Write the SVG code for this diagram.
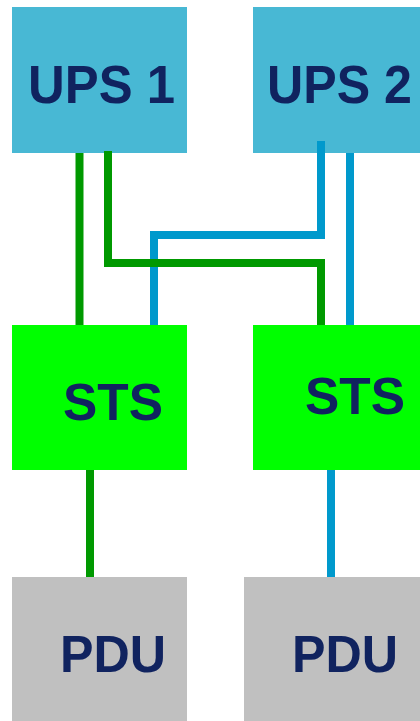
<svg xmlns="http://www.w3.org/2000/svg" width="420" height="721" viewBox="0 0 420 721">
<style>
.ups{fill:#48B8D4}
.sts{fill:#00FF00}
.pdu{fill:#C0C0C0}
.lbl{font-family:"Liberation Sans",Arial,sans-serif;font-weight:bold;fill:#10235F}
.g{stroke:#009900;stroke-width:8;fill:none}
.b{stroke:#0099CC;stroke-width:8;fill:none}
</style>
<rect width="420" height="721" fill="#FFFFFF"/>
<g id="ups1"><rect class="ups" x="12" y="7" width="175" height="146"/><text class="lbl" x="28" y="103" font-size="54" textLength="147" lengthAdjust="spacingAndGlyphs">UPS 1</text></g>
<g id="ups2"><rect class="ups" x="253" y="7" width="167" height="146"/><text class="lbl" x="267" y="103" font-size="54" textLength="145" lengthAdjust="spacingAndGlyphs">UPS 2</text></g>
<g id="sts1"><rect class="sts" x="12" y="325" width="175" height="145"/><text class="lbl" x="63" y="420" font-size="52" textLength="100" lengthAdjust="spacingAndGlyphs">STS</text></g>
<g id="sts2"><rect class="sts" x="253" y="325" width="167" height="145"/><text class="lbl" x="305" y="414" font-size="52" textLength="100" lengthAdjust="spacingAndGlyphs">STS</text></g>
<g id="pdu1"><rect class="pdu" x="12" y="577" width="175" height="144"/><text class="lbl" x="60" y="672" font-size="52" textLength="106" lengthAdjust="spacingAndGlyphs">PDU</text></g>
<g id="pdu2"><rect class="pdu" x="244" y="577" width="176" height="144"/><text class="lbl" x="292" y="672" font-size="52" textLength="106" lengthAdjust="spacingAndGlyphs">PDU</text></g>
<g id="connectors">
<polyline class="b" points="321,141 321,235 154,235 154,325"/>
<line class="b" x1="350" y1="153" x2="350" y2="325"/>
<line class="b" x1="331" y1="470" x2="331" y2="577"/>
<line class="g" x1="79.5" y1="153" x2="79.5" y2="325"/>
<polyline class="g" points="108,151 108,263 321,263 321,325"/>
<line class="g" x1="90" y1="470" x2="90" y2="577"/>
</g>
</svg>
